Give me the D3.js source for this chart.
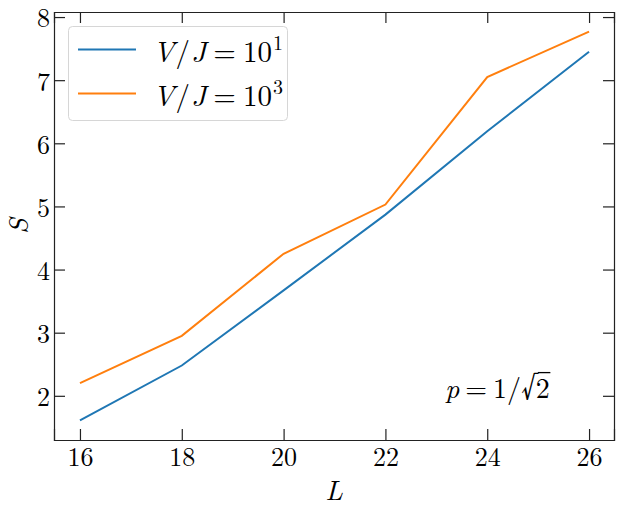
<!DOCTYPE html>
<html>
<head>
<meta charset="utf-8">
<script src="https://cdn.jsdelivr.net/npm/d3@7"></script>
<style>
  body { margin: 0; background: #fff; }
</style>
</head>
<body>
<svg></svg>
<script>
var sizes = [16, 18, 20, 22, 24, 26];
var entropyV1 = [1.61, 2.48, 3.67, 4.87, 6.19, 7.45];
var entropyV3 = [2.20, 2.95, 4.25, 5.03, 7.05, 7.77];
var xTicks = [16, 18, 20, 22, 24, 26];
var yTicks = [2, 3, 4, 5, 6, 7, 8];
var seriesNames = ["1", "3"];

var width = 623, height = 507;
var margin = { left: 54, right: 9, top: 12, bottom: 67 };
var serif = "'Latin Modern Roman', 'Liberation Serif', serif";

var svg = d3.select("svg")
    .attr("width", width)
    .attr("height", height);

var x = d3.scaleLinear()
    .domain([15.49, 26.49])
    .range([margin.left, width - margin.right]);

var y = d3.scaleLinear()
    .domain([1.3, 8.08])
    .range([height - margin.bottom, margin.top]);

var tickLen = 11;
var fontSize = 26;

// data lines
var series = [
    { values: entropyV1, color: "#1f77b4", exp: seriesNames[0] },
    { values: entropyV3, color: "#ff7f0e", exp: seriesNames[1] }
];

var line = d3.line()
    .x(function(d) { return x(d.L); })
    .y(function(d) { return y(d.S); });

svg.append("g")
    .selectAll("path")
    .data(series)
    .enter().append("path")
    .attr("fill", "none")
    .attr("stroke", function(d) { return d.color; })
    .attr("stroke-width", 2)
    .attr("d", function(d) {
        return line(sizes.map(function(L, i) { return { L: L, S: d.values[i] }; }));
    });

// axes, ticks pointing inward on all sides
var bottom = svg.append("g")
    .attr("transform", "translate(0," + y.range()[0] + ")")
    .call(d3.axisBottom(x).tickValues(xTicks).tickSize(-tickLen).tickPadding(7).tickFormat(d3.format("d")));

var top = svg.append("g")
    .attr("transform", "translate(0," + y.range()[1] + ")")
    .call(d3.axisTop(x).tickValues(xTicks).tickSize(-tickLen).tickFormat(""));

var left = svg.append("g")
    .attr("transform", "translate(" + x.range()[0] + ",0)")
    .call(d3.axisLeft(y).tickValues(yTicks).tickSize(-tickLen).tickPadding(4).tickFormat(d3.format("d")));

var right = svg.append("g")
    .attr("transform", "translate(" + x.range()[1] + ",0)")
    .call(d3.axisRight(y).tickValues(yTicks).tickSize(-tickLen).tickFormat(""));

svg.selectAll("g").attr("font-family", null).attr("font-size", null);
svg.selectAll(".domain").attr("stroke", "#222").attr("stroke-width", 1.2);
svg.selectAll(".tick line").attr("stroke", "#222").attr("stroke-width", 1.2);
svg.selectAll(".tick text")
    .style("font-family", serif)
    .style("font-size", fontSize + "px")
    .attr("fill", "#000");
bottom.selectAll(".tick text").attr("dy", "0.72em");
left.selectAll(".tick text").attr("dy", "0.38em");

// axis labels
svg.append("text")
    .attr("x", (x.range()[0] + x.range()[1]) / 2)
    .attr("y", 500)
    .attr("text-anchor", "middle")
    .style("font-family", serif)
    .style("font-size", "28px")
    .style("font-style", "italic")
    .text("L");

svg.append("text")
    .attr("transform", "translate(28," + ((y.range()[0] + y.range()[1]) / 2) + ") rotate(-90)")
    .attr("text-anchor", "middle")
    .style("font-family", serif)
    .style("font-size", "28px")
    .style("font-style", "italic")
    .text("S");

// legend
var legend = svg.append("g");
legend.append("rect")
    .attr("x", 68.5).attr("y", 26.5)
    .attr("width", 219).attr("height", 94)
    .attr("rx", 4)
    .attr("fill", "#fff")
    .attr("fill-opacity", 0.8)
    .attr("stroke", "#d6d6d6")
    .attr("stroke-width", 1);

var rows = legend.selectAll("g.row")
    .data(series)
    .enter().append("g")
    .attr("class", "row")
    .attr("transform", function(d, i) { return "translate(0," + (49.5 + i * 44) + ")"; });

rows.append("line")
    .attr("x1", 78).attr("x2", 136)
    .attr("stroke", function(d) { return d.color; })
    .attr("stroke-width", 2);

var lt = rows.append("text")
    .attr("x", 153)
    .attr("y", 12)
    .style("font-family", serif)
    .style("font-size", "29px");
lt.append("tspan").style("font-style", "italic").text("V");
lt.append("tspan").attr("dx", 1).text("/");
lt.append("tspan").attr("dx", 1).style("font-style", "italic").text("J");
lt.append("tspan").attr("dx", 7).text("=");
lt.append("tspan").attr("dx", 7).text("10");
lt.append("tspan")
    .attr("dx", 1)
    .attr("dy", -12)
    .style("font-size", "20px")
    .text(function(d) { return d.exp; });

// annotation p = 1/sqrt(2)
var annBase = 398, radTop = 372, radBottom = 400;
var ann = svg.append("text")
    .attr("x", 445)
    .attr("y", annBase)
    .style("font-family", serif)
    .style("font-size", "28px");
ann.append("tspan").style("font-style", "italic").text("p");
ann.append("tspan").attr("dx", 6).text("=");
ann.append("tspan").attr("dx", 6).text("1/");
var radSpan = ann.append("tspan").text("√");
var twoSpan = ann.append("tspan").text("2");

var bar = svg.append("line")
    .attr("stroke", "#000")
    .attr("stroke-width", 1.3);

function placeRadical() {
    // size the radical from its ink box so it spans radTop..radBottom
    var ctx = document.createElement("canvas").getContext("2d");
    ctx.font = "100px 'Latin Modern Roman', 'Liberation Serif', serif";
    var m = ctx.measureText("√");
    var inkH = (m.actualBoundingBoxAscent + m.actualBoundingBoxDescent) / 100;
    var s = (radBottom - radTop) / inkH;
    var radBase = radTop + m.actualBoundingBoxAscent / 100 * s;
    radSpan.style("font-size", s + "px").attr("dy", radBase - annBase);
    twoSpan.attr("dy", annBase - radBase).attr("dx", -1);

    var node = ann.node();
    var n = node.getNumberOfChars();
    var two = node.getExtentOfChar(n - 1);
    var rad = node.getExtentOfChar(n - 2);
    var inkRight = rad.x + m.actualBoundingBoxRight / 100 * s;
    bar.attr("x1", inkRight - 1)
        .attr("x2", two.x + two.width + 0.5)
        .attr("y1", radTop + 0.6)
        .attr("y2", radTop + 0.6);
}
if (document.fonts && document.fonts.ready) {
    document.fonts.ready.then(placeRadical);
} else {
    placeRadical();
}
</script>
</body>
</html>
